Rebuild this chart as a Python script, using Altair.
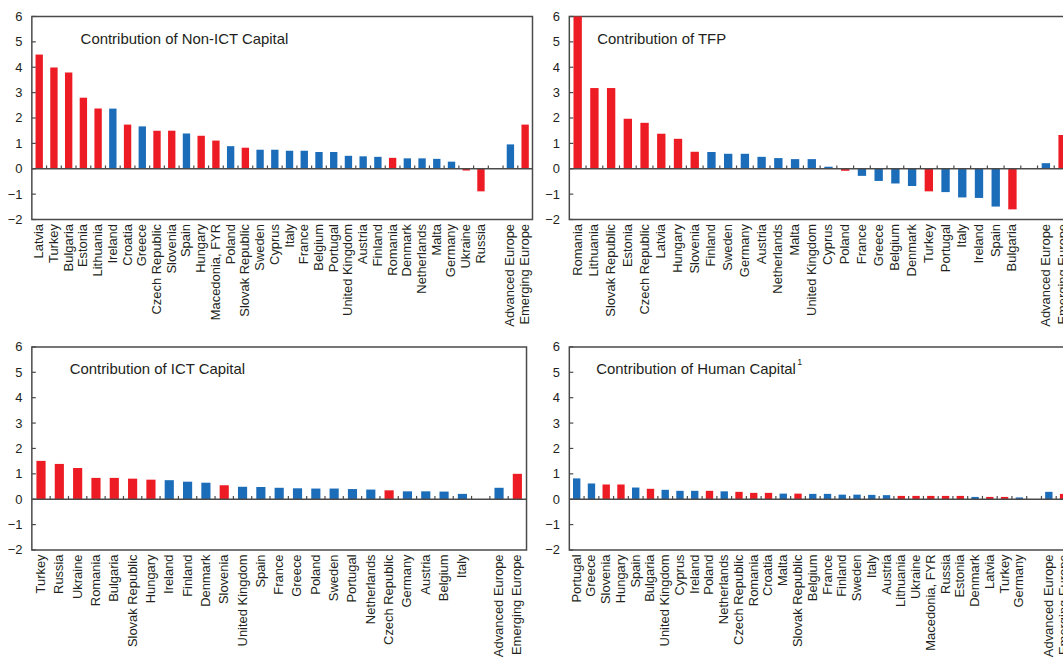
import altair as alt
import pandas as pd

RED = "#ED1C24"
BLUE = "#1C6DB9"
FRAME = "#4A4A4A"
INK = "#231F20"
FONT = "Liberation Sans"

AGG = ["Advanced Europe", "Emerging Europe"]

# Contribution of Non-ICT Capital
noict_names = ["Latvia", "Turkey", "Bulgaria", "Estonia", "Lithuania", "Ireland", "Croatia",
               "Greece", "Czech Republic", "Slovenia", "Spain", "Hungary", "Macedonia, FYR",
               "Poland", "Slovak Republic", "Sweden", "Cyprus", "Italy", "France", "Belgium",
               "Portugal", "United Kingdom", "Austria", "Finland", "Romania", "Denmark",
               "Netherlands", "Malta", "Germany", "Ukraine", "Russia"] + AGG
noict_values = [4.5, 3.99, 3.79, 2.8, 2.37, 2.37, 1.74, 1.67, 1.5, 1.5, 1.39, 1.3, 1.11,
                0.89, 0.83, 0.75, 0.75, 0.71, 0.71, 0.66, 0.66, 0.51, 0.49, 0.47, 0.43,
                0.41, 0.41, 0.39, 0.28, -0.07, -0.89, 0.96, 1.74]
noict_groups = ["E", "E", "E", "E", "E", "A", "E", "A", "E", "E", "A", "E", "E", "A", "E",
                "A", "A", "A", "A", "A", "A", "A", "A", "A", "E", "A", "A", "A", "A", "E",
                "E", "A", "E"]

# Contribution of TFP
tfp_names = ["Romania", "Lithuania", "Slovak Republic", "Estonia", "Czech Republic", "Latvia",
             "Hungary", "Slovenia", "Finland", "Sweden", "Germany", "Austria", "Netherlands",
             "Malta", "United Kingdom", "Cyprus", "Poland", "France", "Greece", "Belgium",
             "Denmark", "Turkey", "Portugal", "Italy", "Ireland", "Spain", "Bulgaria"] + AGG
tfp_values = [6.0, 3.18, 3.18, 1.97, 1.81, 1.38, 1.18, 0.67, 0.66, 0.59, 0.59, 0.47, 0.42,
              0.38, 0.38, 0.08, -0.08, -0.28, -0.48, -0.58, -0.68, -0.89, -0.92, -1.13,
              -1.15, -1.49, -1.6, 0.22, 1.33]
tfp_groups = ["E", "E", "E", "E", "E", "E", "E", "E", "A", "A", "A", "A", "A", "A", "A",
              "A", "E", "A", "A", "A", "A", "E", "A", "A", "A", "A", "E", "A", "E"]

# Contribution of ICT Capital
ict_names = ["Turkey", "Russia", "Ukraine", "Romania", "Bulgaria", "Slovak Republic",
             "Hungary", "Ireland", "Finland", "Denmark", "Slovenia", "United Kingdom",
             "Spain", "France", "Greece", "Poland", "Sweden", "Portugal", "Netherlands",
             "Czech Republic", "Germany", "Austria", "Belgium", "Italy"] + AGG
ict_values = [1.51, 1.39, 1.23, 0.84, 0.84, 0.81, 0.77, 0.75, 0.69, 0.65, 0.55, 0.49, 0.48,
              0.45, 0.43, 0.42, 0.42, 0.4, 0.38, 0.35, 0.31, 0.31, 0.3, 0.21, 0.45, 1.0]
ict_groups = ["E", "E", "E", "E", "E", "E", "E", "A", "A", "A", "E", "A", "A", "A", "A",
              "A", "A", "A", "A", "E", "A", "A", "A", "A", "A", "E"]

# Contribution of Human Capital
hc_names = ["Portugal", "Greece", "Slovenia", "Hungary", "Spain", "Bulgaria", "United Kingdom",
            "Cyprus", "Ireland", "Poland", "Netherlands", "Czech Republic", "Romania",
            "Croatia", "Malta", "Slovak Republic", "Belgium", "France", "Finland", "Sweden",
            "Italy", "Austria", "Lithuania", "Ukraine", "Macedonia, FYR", "Russia", "Estonia",
            "Denmark", "Latvia", "Turkey", "Germany"] + AGG
hc_values = [0.82, 0.62, 0.58, 0.58, 0.46, 0.41, 0.37, 0.33, 0.33, 0.33, 0.31, 0.29, 0.25,
             0.25, 0.22, 0.22, 0.21, 0.21, 0.18, 0.18, 0.17, 0.16, 0.13, 0.13, 0.13, 0.13,
             0.13, 0.09, 0.09, 0.09, 0.07, 0.29, 0.21]
hc_groups = ["A", "A", "E", "E", "A", "E", "A", "A", "A", "E", "A", "E", "E", "E", "A", "E",
             "A", "A", "A", "A", "A", "A", "E", "E", "E", "E", "E", "A", "E", "E", "A",
             "A", "E"]

y_ticks = [-2, -1, 0, 1, 2, 3, 4, 5, 6]


def panel(title, names, values, groups, width, height, title_x, title_y, note=None):
    # one blank slot separates the countries from the two regional aggregates
    slots = names[:-2] + [" "] + names[-2:]
    df = pd.DataFrame({"name": names, "value": values, "group": groups})
    x_scale = alt.Scale(domain=slots, paddingInner=0, paddingOuter=0)
    y_scale = alt.Scale(domain=[-2, 6], nice=False)

    bars = alt.Chart(df).mark_bar(width=alt.RelativeBandSize(0.5)).encode(
        x=alt.X("name:N", scale=x_scale, title=None),
        y=alt.Y("value:Q", scale=y_scale, title=None,
                axis=alt.Axis(values=y_ticks, tickCount=9)),
        color=alt.Color("group:N", legend=None,
                        scale=alt.Scale(domain=["A", "E"], range=[BLUE, RED])),
    )

    zero = alt.Chart(pd.DataFrame({"v": [0]})).mark_rule(
        color=FRAME, strokeWidth=1.5).encode(
        y=alt.Y("v:Q", scale=y_scale, title=None))

    # short upward ticks on the zero line at each category boundary
    bounds = alt.Chart(pd.DataFrame({"name": slots[1:]})).mark_rule(
        color=FRAME, strokeWidth=1.2).encode(
        x=alt.X("name:N", scale=x_scale, bandPosition=0, title=None),
        y=alt.datum(0),
        y2=alt.datum(0.13),
    )

    # inward ticks on the value axis
    yt = alt.Chart(pd.DataFrame({"t": y_ticks})).mark_rule(
        color=FRAME, strokeWidth=1.2).encode(
        x=alt.value(0), x2=alt.value(4),
        y=alt.Y("t:Q", scale=y_scale, title=None),
    )

    label = alt.Chart(pd.DataFrame({"t": [title]})).mark_text(
        align="left", baseline="middle", fontSize=15, font=FONT, color=INK).encode(
        text="t:N", x=alt.value(title_x), y=alt.value(title_y))

    layers = [bars, zero, bounds, yt, label]
    if note is not None:
        sup = alt.Chart(pd.DataFrame({"t": [note[0]]})).mark_text(
            align="left", baseline="middle", fontSize=9, font=FONT, color=INK).encode(
            text="t:N", x=alt.value(note[1]), y=alt.value(note[2]))
        layers.append(sup)

    return alt.layer(*layers).properties(width=width, height=height)


tl = panel("Contribution of Non-ICT Capital", noict_names, noict_values, noict_groups,
           503, 204, 49, 23)
tr = panel("Contribution of TFP", tfp_names, tfp_values, tfp_groups,
           504, 204, 28, 23)
bl = panel("Contribution of ICT Capital", ict_names, ict_values, ict_groups,
           497, 204, 38, 22)
br = panel("Contribution of Human Capital", hc_names, hc_values, hc_groups,
           504, 204, 27, 22, note=("1", 229, 15))

# the right-hand panels run past the page edge and are cut off there
chart = alt.concat(
    tl, tr, bl, br, columns=2, spacing={"row": 128, "column": 37},
    bounds="flush", align="none",
).properties(
    padding={"left": 6, "top": 8, "right": -10, "bottom": 0},
    background="white",
).configure_view(
    stroke=FRAME, strokeWidth=1.5,
).configure_axisX(
    labelAngle=-90, labelAlign="right", labelBaseline="middle", labelPadding=4,
    ticks=False, domain=False, grid=False, labelOverlap=False, labelFontSize=13,
    labelColor=INK, labelFont=FONT, labelLimit=300,
).configure_axisY(
    ticks=False, domain=False, grid=False, labelPadding=10, labelFontSize=13,
    labelColor=INK, labelFont=FONT, labelOverlap=False,
)

chart.save("out.html", embed_options={"renderer": "svg", "actions": False})
